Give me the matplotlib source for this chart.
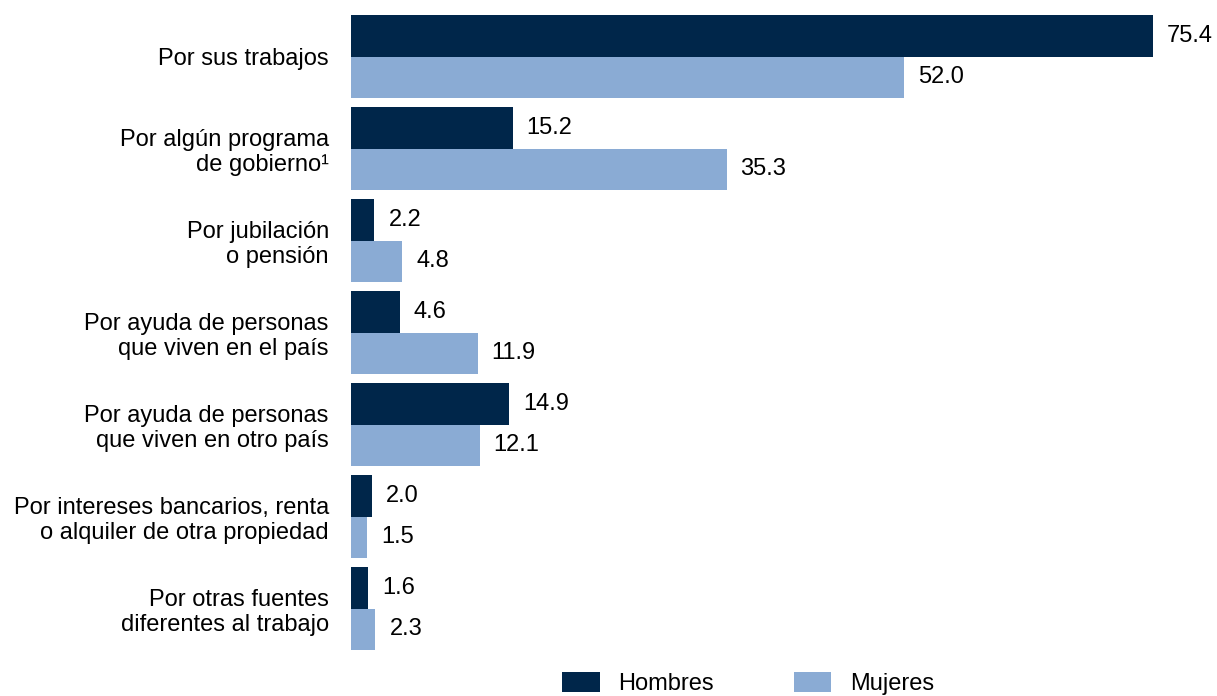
import matplotlib.pyplot as plt
import numpy as np

plt.rcParams['font.family'] = ['Liberation Sans', 'DejaVu Sans']

# Data
categorias = [
    "Por sus trabajos",
    "Por algún programa\nde gobierno¹",
    "Por jubilación\no pensión",
    "Por ayuda de personas\nque viven en el país",
    "Por ayuda de personas\nque viven en otro país",
    "Por intereses bancarios, renta\no alquiler de otra propiedad",
    "Por otras fuentes\ndiferentes al trabajo",
]
hombres = [75.4, 15.2, 2.2, 4.6, 14.9, 2.0, 1.6]
mujeres = [52.0, 35.3, 4.8, 11.9, 12.1, 1.5, 2.3]

color_h = '#00264a'
color_m = '#8aabd4'
fs = 17

fig = plt.figure(figsize=(12.17, 6.96), dpi=100)
ax = fig.add_axes([0.2884, 0.0596, 0.6993, 0.9253])

y = np.arange(len(categorias))
h = 0.45
bars_h = ax.barh(y - h / 2, hombres, height=h, color=color_h, label='Hombres')
bars_m = ax.barh(y + h / 2, mujeres, height=h, color=color_m, label='Mujeres')

# value labels
for bars, vals in [(bars_h, hombres), (bars_m, mujeres)]:
    for b, v in zip(bars, vals):
        ax.annotate(f"{v:.1f}", (b.get_width(), b.get_y() + b.get_height() / 2),
                    xytext=(14, 0), textcoords='offset pixels',
                    va='center', ha='left', fontsize=fs, color='black')

ax.set_xlim(0, 80)
ax.set_ylim(len(categorias) - 0.5, -0.5)
ax.set_yticks(y)
ax.set_yticklabels(categorias, fontsize=fs, ha='right')
ax.tick_params(axis='y', length=0, pad=16)
ax.set_xticks([])
for s in ax.spines.values():
    s.set_visible(False)

fig.legend(handles=[bars_h, bars_m], loc='center', bbox_to_anchor=(0.615, 0.018),
           ncol=2, frameon=False, fontsize=fs, handlelength=1.57, handleheight=0.95,
           columnspacing=3.4, handletextpad=0.8)

fig.savefig('out.png', dpi=100)
